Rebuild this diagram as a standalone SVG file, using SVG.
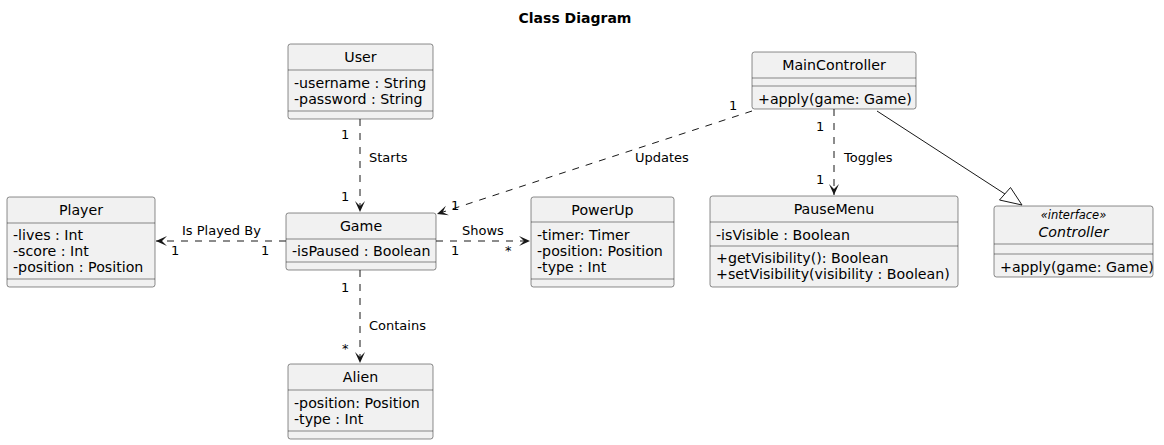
<svg xmlns="http://www.w3.org/2000/svg" width="1164" height="445" viewBox="0 0 1164 445">
<style>
text{font-family:"DejaVu Sans",sans-serif;fill:#000}
.t{font-size:14px;font-weight:bold}
.n{font-size:14.2px;text-anchor:middle}
.f{font-size:14.2px}
.l{font-size:13px}
.box{fill:#F1F1F1;stroke:#181818;stroke-width:0.5}
.sep{stroke:#181818;stroke-width:0.5}
.d{fill:none;stroke:#181818;stroke-width:1;stroke-dasharray:7,7}
.s{fill:none;stroke:#181818;stroke-width:1}
</style>
<defs>
<marker id="a" markerUnits="userSpaceOnUse" markerWidth="14" markerHeight="14" viewBox="-12 -7 14 14" refX="0" refY="0" orient="auto">
<path d="M0,0 L-11,-5 L-6,0 L-11,5 Z" fill="#181818"/>
</marker>
</defs>
<rect width="1164" height="445" fill="#fff"/>
<text class="t" x="575" y="23" text-anchor="middle">Class Diagram</text>

<g id="User">
<rect class="box" x="288" y="44" width="145" height="75" rx="2.5"/>
<text class="n" x="360.5" y="62">User</text>
<line class="sep" x1="288" y1="70" x2="433" y2="70"/>
<text class="f" x="294" y="88">-username : String</text>
<text class="f" x="294" y="104">-password : String</text>
<line class="sep" x1="288" y1="111" x2="433" y2="111"/>
</g>

<g id="MainController">
<rect class="box" x="752" y="52" width="164" height="57" rx="2.5"/>
<text class="n" x="834" y="70">MainController</text>
<line class="sep" x1="752" y1="78" x2="916" y2="78"/>
<line class="sep" x1="752" y1="86" x2="916" y2="86"/>
<text class="f" x="758" y="104">+apply(game: Game)</text>
</g>

<g id="Player">
<rect class="box" x="7" y="197" width="148" height="90" rx="2.5"/>
<text class="n" x="81" y="215">Player</text>
<line class="sep" x1="7" y1="223" x2="155" y2="223"/>
<text class="f" x="13" y="240">-lives : Int</text>
<text class="f" x="13" y="256">-score : Int</text>
<text class="f" x="13" y="272">-position : Position</text>
<line class="sep" x1="7" y1="279" x2="155" y2="279"/>
</g>

<g id="Game">
<rect class="box" x="286" y="213" width="150" height="57" rx="2.5"/>
<text class="n" x="361" y="231">Game</text>
<line class="sep" x1="286" y1="239" x2="436" y2="239"/>
<text class="f" x="292" y="256">-isPaused : Boolean</text>
<line class="sep" x1="286" y1="262" x2="436" y2="262"/>
</g>

<g id="PowerUp">
<rect class="box" x="531" y="197" width="143" height="90" rx="2.5"/>
<text class="n" x="602.5" y="215">PowerUp</text>
<line class="sep" x1="531" y1="222" x2="674" y2="222"/>
<text class="f" x="537" y="240">-timer: Timer</text>
<text class="f" x="537" y="256">-position: Position</text>
<text class="f" x="537" y="272">-type : Int</text>
<line class="sep" x1="531" y1="279" x2="674" y2="279"/>
</g>

<g id="PauseMenu">
<rect class="box" x="710" y="196" width="248" height="91" rx="2.5"/>
<text class="n" x="834" y="214">PauseMenu</text>
<line class="sep" x1="710" y1="222" x2="958" y2="222"/>
<text class="f" x="716" y="240">-isVisible : Boolean</text>
<line class="sep" x1="710" y1="246" x2="958" y2="246"/>
<text class="f" x="716" y="263">+getVisibility(): Boolean</text>
<text class="f" x="716" y="279">+setVisibility(visibility : Boolean)</text>
</g>

<g id="Controller">
<rect class="box" x="994" y="206" width="159" height="71" rx="2.5"/>
<text x="1073.5" y="219" font-size="11.5" font-style="italic" text-anchor="middle">«interface»</text>
<text class="n" x="1073.5" y="237" font-style="italic">Controller</text>
<line class="sep" x1="994" y1="244" x2="1153" y2="244"/>
<line class="sep" x1="994" y1="254" x2="1153" y2="254"/>
<text class="f" x="1000" y="272">+apply(game: Game)</text>
</g>

<g id="Alien">
<rect class="box" x="288" y="364" width="145" height="75" rx="2.5"/>
<text class="n" x="360.5" y="382">Alien</text>
<line class="sep" x1="288" y1="390" x2="433" y2="390"/>
<text class="f" x="294" y="408">-position: Position</text>
<text class="f" x="294" y="424">-type : Int</text>
<line class="sep" x1="288" y1="431" x2="433" y2="431"/>
</g>

<g id="connectors">
<path class="d" d="M360,119 L360,212" marker-end="url(#a)"/>
<text class="l" x="341" y="139">1</text>
<text class="l" x="369" y="162">Starts</text>
<text class="l" x="341" y="201">1</text>

<path class="d" d="M286,241 L156,241" marker-end="url(#a)"/>
<text class="l" x="182" y="235">Is Played By</text>
<text class="l" x="171" y="255">1</text>
<text class="l" x="261" y="255">1</text>

<path class="d" d="M436,241 L530,241" marker-end="url(#a)"/>
<text class="l" x="462" y="235">Shows</text>
<text class="l" x="451" y="255">1</text>
<text class="l" x="505" y="255">*</text>

<path class="d" d="M360,270 L360,363" marker-end="url(#a)"/>
<text class="l" x="341" y="292">1</text>
<text class="l" x="369" y="330">Contains</text>
<text class="l" x="342" y="353">*</text>

<path class="d" d="M752,111 L437,214" marker-end="url(#a)"/>
<text class="l" x="729" y="110">1</text>
<text class="l" x="635" y="162">Updates</text>
<text class="l" x="451" y="210">1</text>

<path class="d" d="M834,109 L834,195" marker-end="url(#a)"/>
<text class="l" x="816" y="131">1</text>
<text class="l" x="844" y="162">Toggles</text>
<text class="l" x="816" y="184">1</text>

<path class="s" d="M877,111 L1005,194"/>
<path d="M1022,205 L999.5,200 L1010.5,187.5 Z" fill="#fff" stroke="#181818" stroke-width="1"/>
</g>
</svg>
